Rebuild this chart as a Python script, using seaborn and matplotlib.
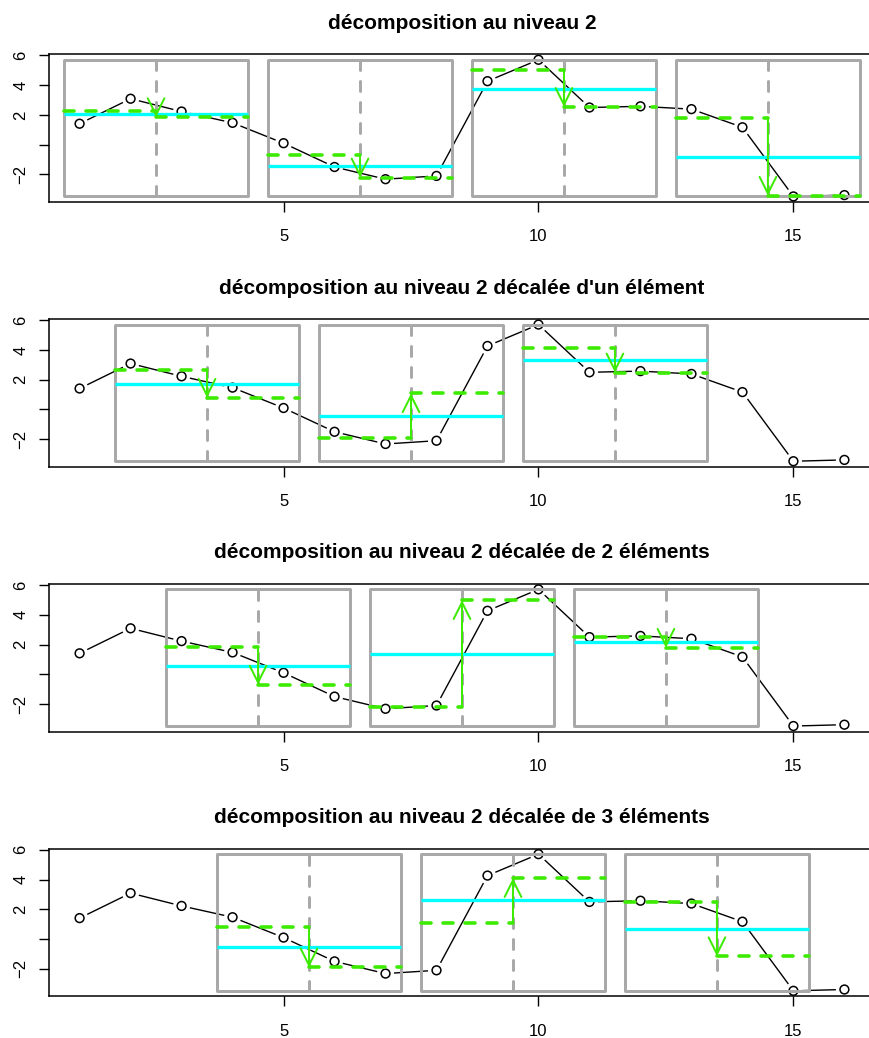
import numpy as np
import pandas as pd
import matplotlib
matplotlib.use("Agg")
import matplotlib.pyplot as plt
import seaborn as sns
from matplotlib.patches import Rectangle, FancyArrowPatch
from matplotlib.collections import LineCollection

# ---- data -------------------------------------------------------------
positions = list(range(1, 17))
signal = [1.41, 3.09, 2.23, 1.47, 0.10, -1.50, -2.32, -2.10,
          4.27, 5.71, 2.50, 2.58, 2.39, 1.17, -3.48, -3.39]
shifts = [0, 1, 2, 3]
titles = [
    "décomposition au niveau 2",
    "décomposition au niveau 2 décalée d'un élément",
    "décomposition au niveau 2 décalée de 2 éléments",
    "décomposition au niveau 2 décalée de 3 éléments",
]
x_ticks = [5, 10, 15]
y_ticks = [-2, 0, 2, 4, 6]
y_tick_labels = ["\u22122", "", "2", "4", "6"]
block_size = 4

# ---- styling ----------------------------------------------------------
sns.set_theme(style="white")
plt.rcParams["font.family"] = ["Liberation Sans", "DejaVu Sans"]
plt.rcParams["lines.scale_dashes"] = False

W, H, DPI = 870, 1038, 100
PT = 72 / DPI  # points per pixel

GREY = "#A9A9A9"
CYAN = "#00FFFF"
GREEN = "#3CEB00"

fig = plt.figure(figsize=(W / DPI, H / DPI), dpi=DPI)

df = pd.DataFrame({"x": positions, "y": signal})
xa = np.asarray(positions, dtype=float)
ya = np.asarray(signal, dtype=float)
lo, hi = ya.min(), ya.max()
xlim = (xa.min() - 0.04 * (xa.max() - xa.min()), xa.max() + 0.04 * (xa.max() - xa.min()))
ylim = (lo - 0.04 * (hi - lo), hi + 0.04 * (hi - lo))

left_px, width_px = 49, 826
top0_px, step_px, height_px = 54.3, 264.8, 147.6
gap_px = 8.5


def gapped_segments(ax, xs, ys, gap):
    """Segments between consecutive points, stopped short of each marker."""
    pts = ax.transData.transform(np.column_stack([xs, ys]))
    inv = ax.transData.inverted()
    segs = []
    for p0, p1 in zip(pts[:-1], pts[1:]):
        d = p1 - p0
        L = np.hypot(*d)
        if L <= 2 * gap:
            continue
        u = d / L
        segs.append(inv.transform(np.array([p0 + u * gap, p1 - u * gap])))
    return segs


for i, (shift, title) in enumerate(zip(shifts, titles)):
    top = top0_px + i * step_px
    ax = fig.add_axes([left_px / W, 1 - (top + height_px) / H,
                       width_px / W, height_px / H])
    ax.set_xlim(*xlim)
    ax.set_ylim(*ylim)

    # series: segments with gaps plus open circles
    ax.add_collection(LineCollection(gapped_segments(ax, xa, ya, gap_px),
                                     colors="black", linewidths=1.0, zorder=2))
    sns.scatterplot(data=df, x="x", y="y", ax=ax, marker="o", s=40,
                    facecolors="none", edgecolor="black", linewidth=1.1,
                    zorder=3, legend=False)

    # level-2 blocks
    for start in range(1 + shift, len(positions) - block_size + 2, block_size):
        seg = ya[start - 1:start - 1 + block_size]
        m1 = seg[:2].mean()
        m2 = seg[2:].mean()
        m = seg.mean()
        cx = start + (block_size - 1) / 2
        x0 = start - 0.3
        x1 = start + block_size - 1 + 0.3

        ax.add_patch(Rectangle((x0, lo), x1 - x0, hi - lo, fill=False,
                               edgecolor=GREY, linewidth=3 * PT,
                               joinstyle="round", zorder=4))
        ax.plot([cx, cx], [lo, hi], color=GREY, linewidth=3 * PT,
                dashes=(10 * PT, 11 * PT), dash_capstyle="round", zorder=4)
        ax.plot([x0, x1], [m, m], color=CYAN, linewidth=3.3 * PT,
                solid_capstyle="butt", zorder=5)
        for xs_, mv in (([x0, cx], m1), ([cx, x1], m2)):
            ax.plot(xs_, [mv, mv], color=GREEN, linewidth=3.6 * PT,
                    dashes=(10 * PT, 12 * PT), dash_capstyle="round", zorder=6)
        ax.add_patch(FancyArrowPatch(
            (cx, m1), (cx, m2),
            arrowstyle="->,head_length=12,head_width=6",
            mutation_scale=1, color=GREEN, linewidth=2 * PT,
            shrinkA=0, shrinkB=0, zorder=7))

    # axes frame and ticks
    for side, sp in ax.spines.items():
        sp.set_visible(True)
        sp.set_color("black")
        sp.set_linewidth(1.1)
    ax.set_xticks(x_ticks)
    ax.set_xticklabels([str(t) for t in x_ticks])
    ax.set_yticks(y_ticks)
    ax.set_yticklabels(y_tick_labels)
    ax.tick_params(axis="both", which="both", direction="out",
                   length=10 * PT, width=1.0, color="black",
                   labelsize=12, labelcolor="black")
    ax.tick_params(axis="x", pad=12.5, bottom=True)
    ax.tick_params(axis="y", pad=7.5, left=True, labelrotation=90)
    for lab in ax.get_yticklabels():
        lab.set_va("center")
    ax.set_xlabel("")
    ax.set_ylabel("")

    ax.text(0.5, 1 + 31 / height_px, title, transform=ax.transAxes,
            ha="center", va="center", fontsize=15, fontweight="bold",
            color="black")

fig.savefig("out.png", dpi=DPI)
